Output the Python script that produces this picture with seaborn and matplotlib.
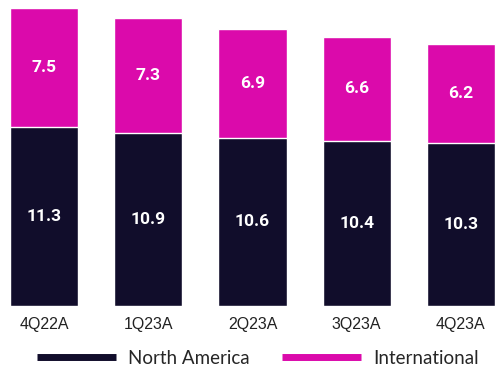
import numpy as np
import pandas as pd
import seaborn as sns
import matplotlib.pyplot as plt
from matplotlib.lines import Line2D

# dados
trimestres = ['4Q22A', '1Q23A', '2Q23A', '3Q23A', '4Q23A']
north_america = [11.3, 10.9, 10.6, 10.4, 10.3]
international = [7.5, 7.3, 6.9, 6.6, 6.2]

cor_na = '#110d2b'
cor_int = '#db0aab'

df = pd.DataFrame({'trimestre': trimestres, 'na': north_america, 'intl': international})
df['total'] = df['na'] + df['intl']

sns.set_style('white')
fig = plt.figure(figsize=(4.96, 3.68), dpi=100)
ax = fig.add_axes([0, 62 / 368, 1, 298 / 368])

# barras empilhadas: total atras, North America na frente
sns.barplot(data=df, x='trimestre', y='total', color=cor_int, width=0.654,
            saturation=1, ax=ax)
sns.barplot(data=df, x='trimestre', y='na', color=cor_na, width=0.654,
            saturation=1, ax=ax)

ax.set_xlim(-0.423, 4.337)
ax.set_ylim(0, 18.8)

for i, row in df.iterrows():
    ax.text(i, row['na'] / 2, f"{row['na']:.1f}", ha='center', va='center',
            color='white', fontsize=12.5, fontweight='bold', family='Roboto')
    ax.text(i, row['na'] + row['intl'] / 2, f"{row['intl']:.1f}", ha='center',
            va='center', color='white', fontsize=12.5, fontweight='bold', family='Roboto')

ax.set_xlabel('')
ax.set_ylabel('')
ax.set_yticks([])
ax.tick_params(axis='x', length=0, pad=8)
plt.setp(ax.get_xticklabels(), fontsize=11.5, family='Liberation Sans', color='#222222')
sns.despine(ax=ax, left=True, bottom=True)

handles = [Line2D([], [], color=cor_na, lw=5, solid_capstyle='butt'),
           Line2D([], [], color=cor_int, lw=5, solid_capstyle='butt')]
fig.legend(handles, ['North America', 'International'], loc='center',
           bbox_to_anchor=(0.52, 10 / 368), ncol=2, frameon=False, handlelength=4.2,
           columnspacing=1.7, handletextpad=0.65,
           prop={'family': 'Lato', 'size': 13.5})

plt.savefig('out.png', dpi=100)
